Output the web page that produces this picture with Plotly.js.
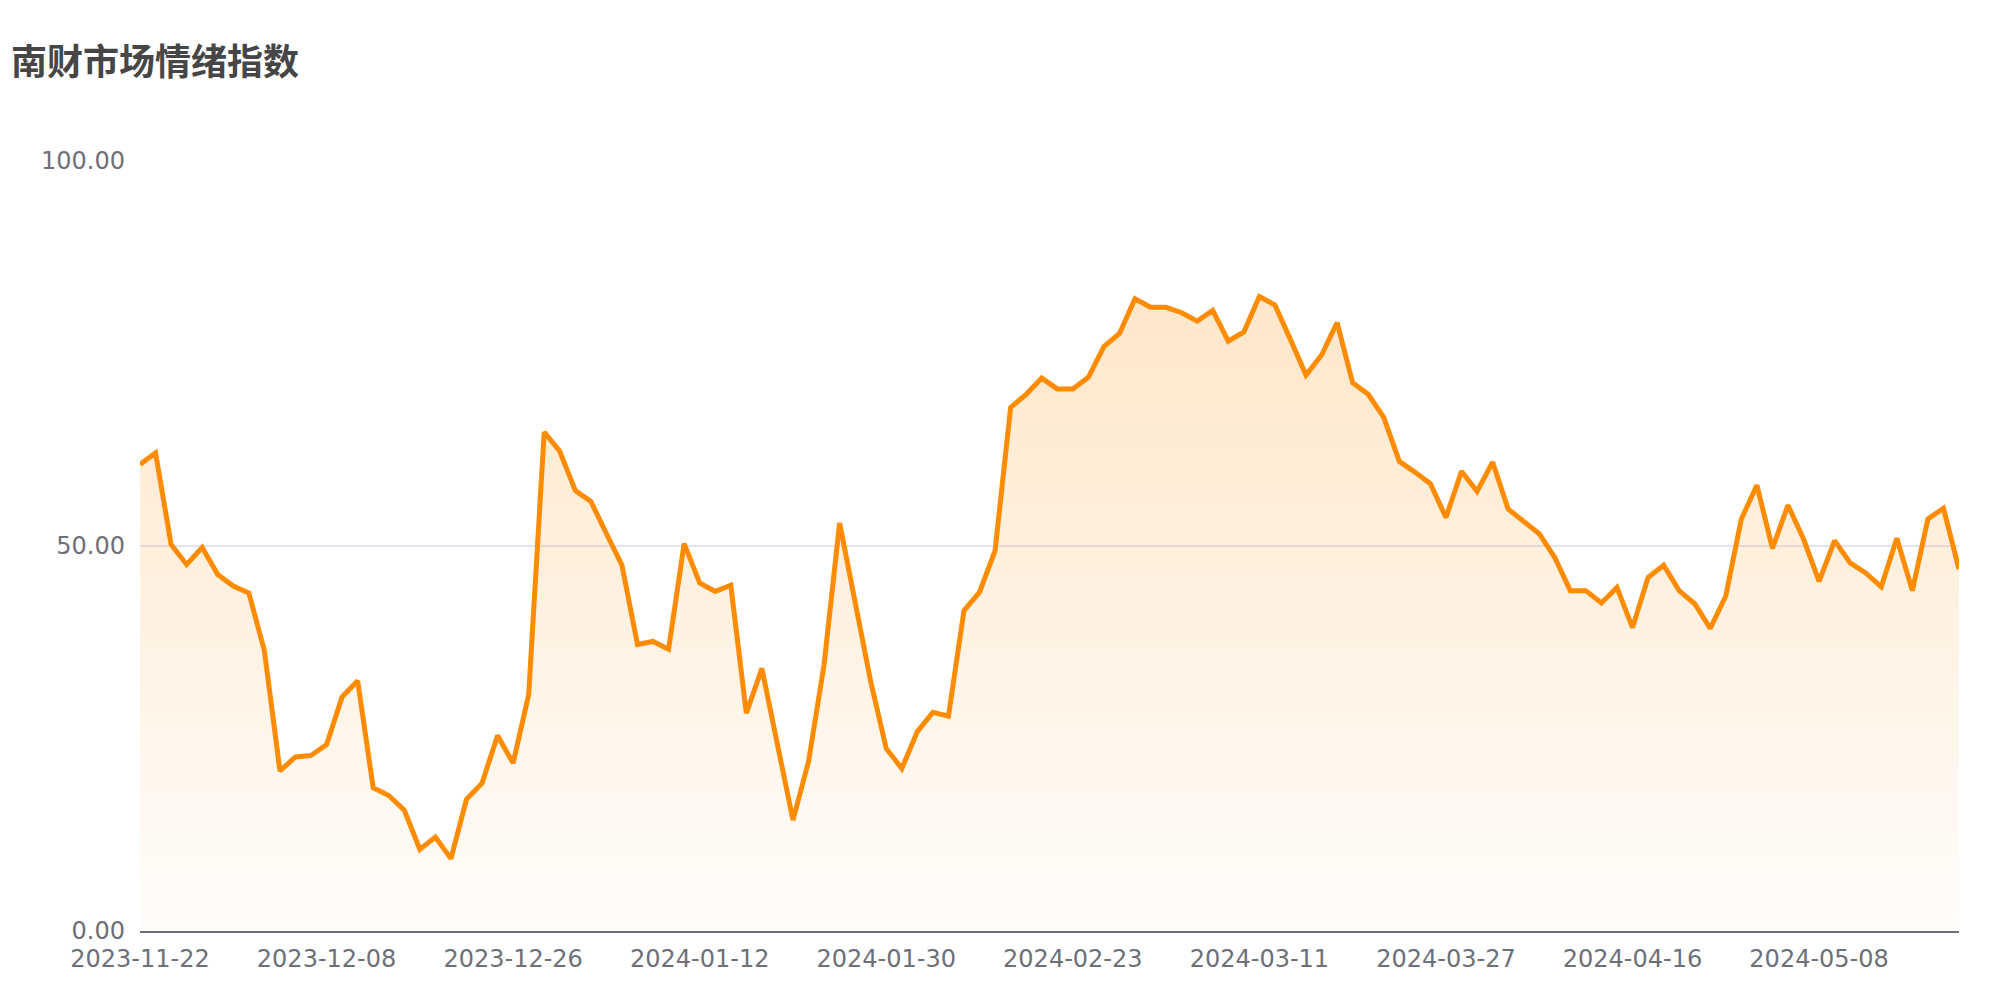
<!DOCTYPE html>
<html>
<head>
<meta charset="utf-8">
<script src="https://cdn.plot.ly/plotly-3.0.1.min.js"></script>
<style>
  html, body { margin: 0; padding: 0; background: #ffffff; }
  #chart { width: 2000px; height: 1000px; }
</style>
</head>
<body>
<div id="chart"></div>
<script>
// ---- Data ----
const chartTitle = '南财市场情绪指数';

const dates = [
  '2023-11-22','2023-11-23','2023-11-24','2023-11-27','2023-11-28','2023-11-29','2023-11-30','2023-12-01','2023-12-04','2023-12-05','2023-12-06','2023-12-07','2023-12-08',
  '2023-12-11','2023-12-12','2023-12-13','2023-12-14','2023-12-15','2023-12-18','2023-12-19','2023-12-20','2023-12-21','2023-12-22','2023-12-25','2023-12-26',
  '2023-12-27','2023-12-28','2023-12-29','2024-01-02','2024-01-03','2024-01-04','2024-01-05','2024-01-08','2024-01-09','2024-01-10','2024-01-11','2024-01-12',
  '2024-01-15','2024-01-16','2024-01-17','2024-01-18','2024-01-19','2024-01-22','2024-01-23','2024-01-24','2024-01-25','2024-01-26','2024-01-29','2024-01-30',
  '2024-01-31','2024-02-01','2024-02-02','2024-02-05','2024-02-06','2024-02-07','2024-02-08','2024-02-19','2024-02-20','2024-02-21','2024-02-22','2024-02-23',
  '2024-02-26','2024-02-27','2024-02-28','2024-02-29','2024-03-01','2024-03-04','2024-03-05','2024-03-06','2024-03-07','2024-03-08','2024-03-09','2024-03-11',
  '2024-03-12','2024-03-13','2024-03-14','2024-03-15','2024-03-18','2024-03-19','2024-03-20','2024-03-21','2024-03-22','2024-03-25','2024-03-26','2024-03-27',
  '2024-03-28','2024-03-29','2024-04-01','2024-04-02','2024-04-03','2024-04-08','2024-04-09','2024-04-10','2024-04-11','2024-04-12','2024-04-15','2024-04-16',
  '2024-04-17','2024-04-18','2024-04-19','2024-04-22','2024-04-23','2024-04-24','2024-04-25','2024-04-26','2024-04-29','2024-04-30','2024-05-07','2024-05-08',
  '2024-05-09','2024-05-10','2024-05-13','2024-05-14','2024-05-15','2024-05-16','2024-05-17','2024-05-20','2024-05-21'
];

const sentiment = [
  60.6, 62.1, 50.2, 47.6, 49.8, 46.3, 44.8, 43.9, 36.4, 20.8,
  22.6, 22.8, 24.2, 30.4, 32.5, 18.6, 17.6, 15.7, 10.6, 12.2,
  9.4, 17.1, 19.2, 25.4, 21.8, 30.7, 64.8, 62.3, 57.2, 55.8,
  51.6, 47.5, 37.2, 37.6, 36.6, 50.3, 45.2, 44.1, 44.9, 28.3,
  34.1, 24.4, 14.4, 22.0, 34.6, 53.0, 42.4, 32.4, 23.7, 21.1,
  25.9, 28.4, 27.9, 41.6, 44.0, 49.4, 68.0, 69.7, 71.8, 70.4,
  70.4, 71.9, 75.9, 77.6, 82.1, 81.0, 81.0, 80.3, 79.2, 80.6,
  76.6, 77.8, 82.4, 81.3, 76.8, 72.2, 74.8, 79.0, 71.2, 69.7,
  66.7, 61.0, 59.6, 58.1, 53.7, 59.7, 57.1, 60.9, 54.8, 53.3,
  51.6, 48.5, 44.2, 44.2, 42.6, 44.6, 39.4, 45.9, 47.5, 44.2,
  42.5, 39.3, 43.5, 53.5, 57.9, 49.7, 55.3, 50.9, 45.4, 50.7,
  47.8, 46.5, 44.7, 51.0, 44.2, 53.5, 54.9, 47.0
];

const xTickLabels = [
  '2023-11-22','2023-12-08','2023-12-26','2024-01-12','2024-01-30',
  '2024-02-23','2024-03-11','2024-03-27','2024-04-16','2024-05-08'
];
const yTickValues = [0, 50, 100];

// ---- Chart ----
const lineColor = '#ff8c00';
const labelColor = '#6e7079';
const labelFont = { family: 'DejaVu Sans, sans-serif', size: 24, color: labelColor };

const trace = {
  type: 'scatter',
  mode: 'lines',
  x: dates,
  y: sentiment,
  line: { color: lineColor, width: 5 },
  fill: 'tozeroy',
  fillgradient: {
    type: 'vertical',
    start: 0,
    stop: Math.max(...sentiment),
    colorscale: [
      [0, 'rgba(255,140,0,0.02)'],
      [1, 'rgba(255,140,0,0.21)']
    ]
  },
  hovertemplate: '%{x}<br>%{y:.2f}<extra></extra>'
};

const layout = {
  width: 2000,
  height: 1000,
  paper_bgcolor: '#ffffff',
  plot_bgcolor: '#ffffff',
  margin: { l: 140, r: 41, t: 161, b: 69, pad: 0 },
  showlegend: false,
  title: {
    text: chartTitle,
    font: { family: 'Noto Sans CJK SC, sans-serif', size: 36, color: '#464646', weight: 'bold' },
    xref: 'container', yref: 'container',
    x: 0.0055, xanchor: 'left',
    y: 0.938, yanchor: 'middle'
  },
  xaxis: {
    type: 'category',
    range: [0, dates.length - 1],
    tickmode: 'array',
    tickvals: xTickLabels,
    ticktext: xTickLabels,
    tickangle: 0,
    showgrid: false,
    showline: true,
    linecolor: labelColor,
    linewidth: 2,
    ticks: '',
    ticklabelstandoff: 5,
    tickfont: labelFont,
    zeroline: false,
    fixedrange: true
  },
  yaxis: {
    range: [0, 100],
    tickmode: 'array',
    tickvals: yTickValues,
    tickformat: '.2f',
    showgrid: true,
    gridcolor: '#e0e6f1',
    gridwidth: 2,
    showline: false,
    zeroline: false,
    ticks: '',
    ticklabelstandoff: 14,
    tickfont: labelFont,
    fixedrange: true
  }
};

Plotly.newPlot('chart', [trace], layout, { displayModeBar: false });
</script>
</body>
</html>
